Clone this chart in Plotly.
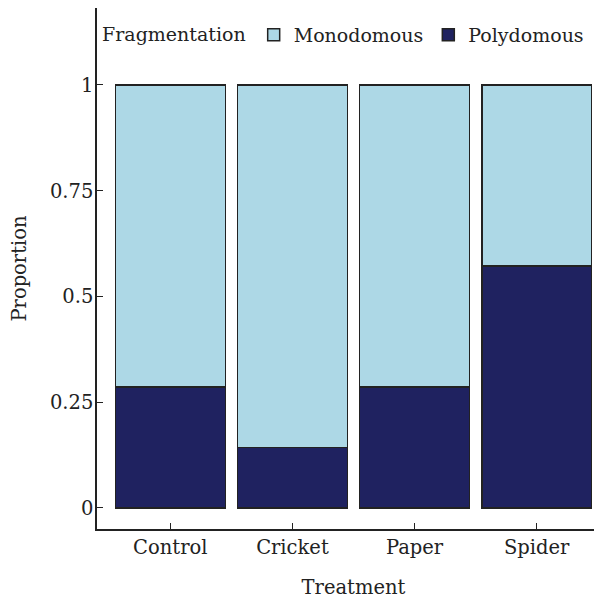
import plotly.graph_objects as go

treatments = ["Control", "Cricket", "Paper", "Spider"]
polydomous = [2/7, 1/7, 2/7, 4/7]
monodomous = [5/7, 6/7, 5/7, 3/7]
ytick_vals = [0, 0.25, 0.5, 0.75, 1]
ytick_text = ["0", "0.25", "0.5", "0.75", "1"]

FONT = "DejaVu Serif"
FS = 19.5
f = dict(family=FONT, size=FS, color="#222222")
fl = dict(family=FONT, size=19, color="#222222")
fig = go.Figure()
fig.add_trace(go.Bar(x=treatments, y=polydomous, name="Polydomous",
                     marker=dict(color="#1f2260", line=dict(color="#222222", width=1.5))))
fig.add_trace(go.Bar(x=treatments, y=monodomous, name="Monodomous",
                     marker=dict(color="#add8e6", line=dict(color="#222222", width=1.5))))

fig.update_layout(
    barmode="stack", bargap=0.1,
    width=602, height=599,
    margin=dict(l=89, r=0, t=0, b=78, autoexpand=False),
    paper_bgcolor="white", plot_bgcolor="white",
    font=f,
    legend=dict(orientation="h", x=0.006, xanchor="left", y=0.985, yanchor="top",
                traceorder="reversed", itemwidth=30,
                title=dict(text="Fragmentation", font=fl),
                bgcolor="rgba(0,0,0,0)", font=fl),
    xaxis=dict(range=[-0.6, 3.6], showline=True, linecolor="#222222", linewidth=1.5,
               mirror=True, ticks="inside", ticklen=6, tickcolor="#222222",
               tickfont=f, automargin=False,
               title=dict(text="Treatment", standoff=22, font=f), showgrid=False),
    yaxis=dict(range=[-0.05, 1.182], showline=True, linecolor="#222222", linewidth=1.5,
               ticks="inside", ticklen=6, tickcolor="#222222", tickfont=f, automargin=False,
               tickvals=ytick_vals, ticktext=ytick_text, showgrid=False, zeroline=False,
               ticklabelstandoff=-2,
               title=dict(text="Proportion", standoff=20, font=f)),
    showlegend=True,
)
fig.write_html("out.html")
